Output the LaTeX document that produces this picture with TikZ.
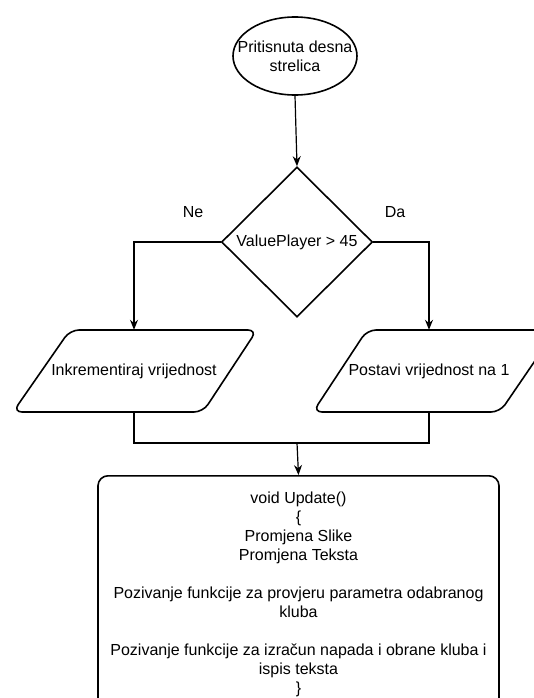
\documentclass[tikz,border=0pt]{standalone}
\usepackage{fontspec}
\setmainfont{Liberation Sans}
\usetikzlibrary{shapes.geometric,arrows.meta}

\begin{document}
\begin{tikzpicture}[x=1pt,y=-1pt,
    font=\fontsize{16}{19}\selectfont,
    shape line/.style={draw,line width=1.6pt},
    link/.style={line width=1.2pt},
    arrow/.style={link,-{Stealth[length=10pt,width=8pt]}},
    io text/.style={minimum height=82pt,inner sep=0pt}]

    \useasboundingbox (0,0) rectangle (534,698);
    \clip (0,0) rectangle (534,698);

    \node[shape line,ellipse,minimum width=124pt,minimum height=78pt,inner sep=0pt,
        label={[align=center]center:Pritisnuta desna\\strelica}] (start) at (295,56) {};
    \node[shape line,diamond,minimum width=151pt,minimum height=150pt,inner sep=0pt] (cond) at (297,242) {ValuePlayer > 45};
    \node (ne) at (193,212) {Ne};
    \node (da) at (395,212) {Da};

    % parallelograms
    \draw[shape line,rounded corners=9pt] (70,330) -- (257,330) -- (203,412) -- (13,412) -- cycle;
    \draw[shape line,rounded corners=9pt] (367,330) -- (556,330) -- (500,412) -- (313,412) -- cycle;
    \node[io text] (no) at (134,371) {Inkrementiraj vrijednost};
    \node[io text] (yes) at (429,371) {Postavi vrijednost na 1};

    \node[shape line,rounded corners=10pt,minimum width=401pt,minimum height=238pt,
        anchor=north,align=center] (update) at (298.5,475) {void Update()\\ \{\\ Promjena Slike\\ Promjena Teksta\\[19pt]
        Pozivanje funkcije za provjeru parametra odabranog\\ kluba\\[19pt]
        Pozivanje funkcije za izračun napada i obrane kluba i\\ ispis teksta\\ \}};

    \draw[arrow] (start.south) -- (cond.north);
    \draw[arrow] (cond.west) -| (no.north);
    \draw[arrow] (cond.east) -| (yes.north);

    \coordinate (join) at (297,443);
    \draw[link] (no.south) |- (join) -| (yes.south);
    \draw[arrow] (join) -- (update.north);

\end{tikzpicture}
\end{document}
